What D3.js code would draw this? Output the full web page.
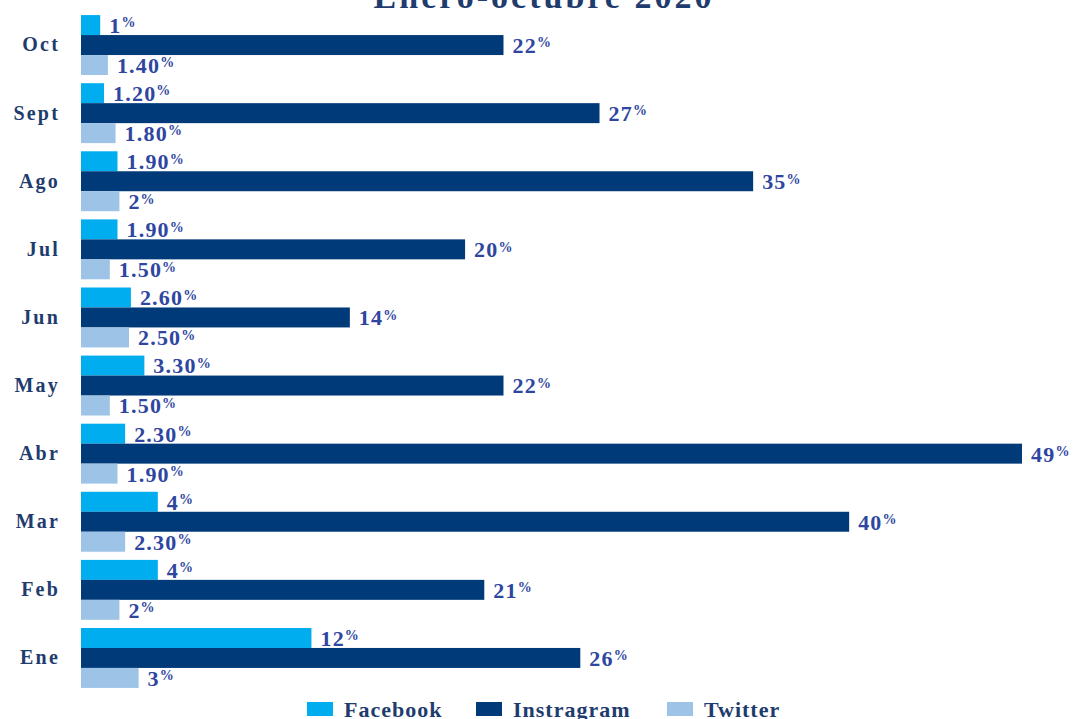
<!DOCTYPE html>
<html><head><meta charset="utf-8">
<script src="https://cdn.jsdelivr.net/npm/d3@7"></script>
<style>body{margin:0;background:#fff}svg{display:block}</style>
</head><body><svg id="c" width="1076" height="719"></svg>
<script>
const categories = ["Oct","Sept","Ago","Jul","Jun","May","Abr","Mar","Feb","Ene"];
const seriesNames = ["Facebook","Instragram","Twitter"];
const facebook  = [1, 1.2, 1.9, 1.9, 2.6, 3.3, 2.3, 4, 4, 12];
const instagram = [22, 27, 35, 20, 14, 22, 49, 40, 21, 26];
const twitter   = [1.4, 1.8, 2, 1.5, 2.5, 1.5, 1.9, 2.3, 2, 3];
const facebookLabels  = ["1%","1.20%","1.90%","1.90%","2.60%","3.30%","2.30%","4%","4%","12%"];
const instagramLabels = ["22%","27%","35%","20%","14%","22%","49%","40%","21%","26%"];
const twitterLabels   = ["1.40%","1.80%","2%","1.50%","2.50%","1.50%","1.90%","2.30%","2%","3%"];
const title = "Enero-octubre 2020";

const colors = ["#00AEEF","#003A78","#9DC3E6"];
const values = [facebook, instagram, twitter];
const labels = [facebookLabels, instagramLabels, twitterLabels];

const svg = d3.select("#c");
const font = "'Liberation Serif', 'DejaVu Serif', serif";
const x = d3.scaleLinear().domain([0, 49]).range([81, 1022]);
const y = d3.scaleBand().domain(categories).range([11, 692]).paddingInner(0.12).paddingOuter(0.06);
const ys = d3.scaleBand().domain(seriesNames).range([0, y.bandwidth()]);

svg.append("text").attr("x", 544).attr("y", 8).attr("text-anchor","middle")
  .attr("font-family", font).attr("font-weight","bold").attr("font-size", 34)
  .attr("fill","#1F3C6E").attr("letter-spacing", 3).text(title);

const rows = [];
categories.forEach((c, i) => seriesNames.forEach((s, j) => rows.push({c, s, j, v: values[j][i], l: labels[j][i]})));

svg.append("g").selectAll("rect").data(rows).join("rect")
  .attr("x", x(0)).attr("y", d => y(d.c) + ys(d.s))
  .attr("width", d => x(d.v) - x(0)).attr("height", ys.bandwidth())
  .attr("fill", d => colors[d.j]);

const lt = svg.append("g").selectAll("text").data(rows).join("text")
  .attr("x", d => x(d.v) + 9).attr("y", d => y(d.c) + ys(d.s) + ys.bandwidth()/2)
  .attr("dy", "0.36em")
  .attr("font-family", font).attr("font-weight","bold").attr("font-size", 22)
  .attr("fill", "#2E46A0").attr("letter-spacing", 1.2);
lt.append("tspan").text(d => d.l.replace("%",""));
lt.append("tspan").attr("font-size", 14).attr("dy", "-0.4em").text("%");

const yAxis = svg.append("g").attr("transform", "translate(81,0)")
  .call(d3.axisLeft(y).tickSize(0).tickPadding(21));
yAxis.select(".domain").remove();
yAxis.selectAll("text").attr("font-family", font).attr("font-weight","bold")
  .attr("font-size", 20).attr("fill","#1F3C6E").attr("letter-spacing", 2.2);

const legX = [307, 476, 667];
const leg = svg.append("g").selectAll("g").data(seriesNames).join("g")
  .attr("transform", (d, i) => `translate(${legX[i]},702)`);
leg.append("rect").attr("width", 26).attr("height", 14).attr("fill", (d, i) => colors[i]);
leg.append("text").attr("x", 37).attr("y", 15).text(d => d)
  .attr("font-family", font).attr("font-weight","bold").attr("font-size", 22)
  .attr("fill","#1F3C6E").attr("letter-spacing", 1);
</script></body></html>
